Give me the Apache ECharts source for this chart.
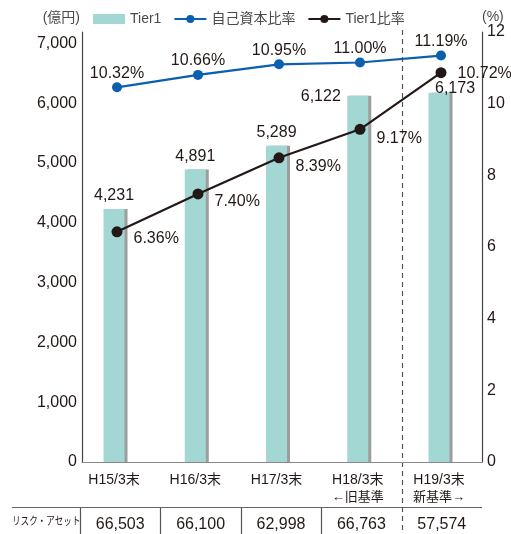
<!DOCTYPE html>
<html>
<head>
<meta charset="utf-8">
<script src="https://cdn.jsdelivr.net/npm/echarts@6/dist/echarts.min.js"></script>
<style>
  html, body { margin: 0; padding: 0; background: #fff; }
  #chart { width: 511px; height: 534px; }
</style>
</head>
<body>
<div id="chart"></div>
<script>
// Fiscal year-end periods and their sub-notes (regulatory basis)
const categories = ['H15/3末', 'H16/3末', 'H17/3末', 'H18/3末', 'H19/3末'];
const categoryNotes = ['', '', '', '←旧基準', '新基準→'];

// Tier1 capital (億円)
const tier1 = [4231, 4891, 5289, 6122, 6173];
// Capital adequacy ratio (%)
const capitalRatio = [10.32, 10.66, 10.95, 11.00, 11.19];
// Tier1 ratio (%)
const tier1Ratio = [6.36, 7.40, 8.39, 9.17, 10.72];
// Risk-weighted assets (億円)
const riskAssets = [66503, 66100, 62998, 66763, 57574];

// Axis ranges
const amountMax = 7190;
const amountStep = 1000;
const ratioMax = 12;
const ratioStep = 2;

// Label nudges so neighbouring labels stay clear of each other
const tier1LabelOffsets = [[0, 0], [0, 0], [0, 0], [-37, 14], [16, 9]];
const tier1RatioLabelOffsets = [[0, 7], [0, 8], [0, 9], [0, 9], [0, 1]];

const FONT = '"Liberation Sans", "Noto Sans CJK JP", sans-serif';
const INK = '#231815';
const TEAL = '#a2d7d3';
const BLUE = '#0a5fae';

const fmtNum = v => Number(v).toLocaleString('en-US');
const fmtPct = v => Number(v).toFixed(2) + '%';

const chart = echarts.init(document.getElementById('chart'), null, { renderer: 'canvas' });

const option = {
  backgroundColor: '#fff',
  animation: false,
  textStyle: { fontFamily: FONT, color: INK },
  legend: {
    left: 93, top: 12, padding: 0,
    itemWidth: 32, itemHeight: 10, itemGap: 12,
    textStyle: { fontSize: 14, color: '#4a4a4a', fontFamily: FONT },
    data: [
      { name: 'Tier1', icon: 'rect', itemStyle: { shadowColor: 'rgba(0,0,0,0)', shadowBlur: 0, shadowOffsetX: 0 } },
      { name: '自己資本比率' },
      { name: 'Tier1比率' }
    ]
  },
  grid: [
    // axes frame
    { left: 82, right: 29, top: 32, bottom: 72 },
    // bars
    { left: 73.4, right: 31.35, top: 32, bottom: 72 },
    // ratio lines
    { left: 76.5, right: 29.5, top: 26, bottom: 70 },
    // risk-asset table
    { left: 80, right: 29, top: 507, bottom: 0 }
  ],
  xAxis: [
    {
      gridIndex: 0, type: 'category', data: categories,
      axisLine: { show: true, lineStyle: { color: '#8a8a8a', width: 1.2 } },
      axisTick: { show: false }, axisLabel: { show: false }
    },
    {
      gridIndex: 1, type: 'category', data: categories,
      axisLine: { show: false }, axisTick: { show: false },
      axisLabel: {
        interval: 0, margin: 10, fontSize: 14, lineHeight: 17, color: INK, fontFamily: FONT,
        formatter: (v, i) => categoryNotes[i] ? v + '\n{n|' + categoryNotes[i] + '}' : v,
        rich: { n: { fontSize: 13, lineHeight: 17, color: INK, fontFamily: FONT } }
      }
    },
    {
      gridIndex: 2, type: 'category', data: categories, show: false
    },
    {
      gridIndex: 3, type: 'category', position: 'top',
      data: riskAssets.map(fmtNum),
      axisLine: { show: false }, axisTick: { show: false },
      axisLabel: { inside: true, interval: 0, margin: 10, fontSize: 16, color: INK, fontFamily: FONT },
      splitLine: {
        show: true, interval: 0,
        lineStyle: { color: ['#555', '#555', '#555', '#555', 'rgba(0,0,0,0)', 'rgba(0,0,0,0)'], width: 1.2 }
      }
    }
  ],
  yAxis: [
    {
      gridIndex: 0, type: 'value', min: 0, max: amountMax, interval: amountStep,
      name: '(億円)', nameLocation: 'end', nameGap: 7,
      nameTextStyle: { align: 'right', fontSize: 14, color: '#4a4a4a', fontFamily: FONT, padding: [0, 2, 0, 0] },
      axisLine: { show: true, lineStyle: { color: '#444', width: 1.2 } },
      axisTick: { show: false }, splitLine: { show: false },
      axisLabel: { showMaxLabel: false, margin: 5, fontSize: 16, color: INK, fontFamily: FONT, formatter: fmtNum }
    },
    {
      gridIndex: 0, type: 'value', position: 'right', min: 0, max: ratioMax, interval: ratioStep,
      name: '(%)', nameLocation: 'end', nameGap: 7,
      nameTextStyle: { align: 'left', fontSize: 14, color: '#4a4a4a', fontFamily: FONT },
      axisLine: { show: true, lineStyle: { color: '#444', width: 1.2 } },
      axisTick: { show: false }, splitLine: { show: false },
      axisLabel: { margin: 5, fontSize: 16, color: INK, fontFamily: FONT }
    },
    { gridIndex: 1, type: 'value', min: 0, max: amountMax, show: false },
    { gridIndex: 2, type: 'value', min: 0, max: ratioMax, show: false },
    { gridIndex: 3, type: 'value', show: false }
  ],
  series: [
    {
      name: 'Tier1', type: 'bar', xAxisIndex: 1, yAxisIndex: 2,
      barWidth: 21,
      itemStyle: { color: TEAL, shadowColor: '#9d9d9d', shadowOffsetX: 3, shadowOffsetY: 0, shadowBlur: 0 },
      label: { show: true, position: 'top', distance: 5, fontSize: 16, color: INK, fontFamily: FONT, formatter: p => fmtNum(p.value) },
      data: tier1.map((v, i) => ({ value: v, label: { offset: tier1LabelOffsets[i] } }))
    },
    {
      name: '自己資本比率', type: 'line', xAxisIndex: 2, yAxisIndex: 3,
      symbol: 'circle', symbolSize: 10,
      lineStyle: { color: BLUE, width: 2.2 },
      itemStyle: { color: BLUE },
      label: { show: true, position: 'top', distance: 1, fontSize: 16, color: INK, fontFamily: FONT, formatter: p => fmtPct(p.value) },
      data: capitalRatio
    },
    {
      name: 'Tier1比率', type: 'line', xAxisIndex: 2, yAxisIndex: 3,
      symbol: 'circle', symbolSize: 11,
      lineStyle: { color: INK, width: 2.2 },
      itemStyle: { color: INK },
      label: { show: true, position: 'right', distance: 11, fontSize: 16, color: INK, fontFamily: FONT, formatter: p => fmtPct(p.value) },
      data: tier1Ratio.map((v, i) => ({ value: v, label: { offset: tier1RatioLabelOffsets[i] } }))
    }
  ]
};

chart.setOption(option);

// Table rule, row heading and the basis-change divider
const xa = chart.convertToPixel({ xAxisIndex: 3 }, 3);
const xb = chart.convertToPixel({ xAxisIndex: 3 }, 4);
const dividerX = Math.round((xa + xb) / 2) + 0.5;

chart.setOption({
  graphic: [
    {
      type: 'line', shape: { x1: 12, y1: 507.5, x2: 482, y2: 507.5 },
      style: { stroke: '#666', lineWidth: 1.2 }, silent: true
    },
    {
      type: 'text', left: 12, top: 516, scaleX: 0.78,
      style: { text: 'リスク・アセット', fontSize: 11, fill: INK, fontFamily: FONT }, silent: true
    },
    {
      type: 'line', shape: { x1: dividerX, y1: 30, x2: dividerX, y2: 534 },
      style: { stroke: '#555', lineWidth: 1.2, lineDash: [5, 4] }, silent: true
    }
  ]
});
</script>
</body>
</html>
